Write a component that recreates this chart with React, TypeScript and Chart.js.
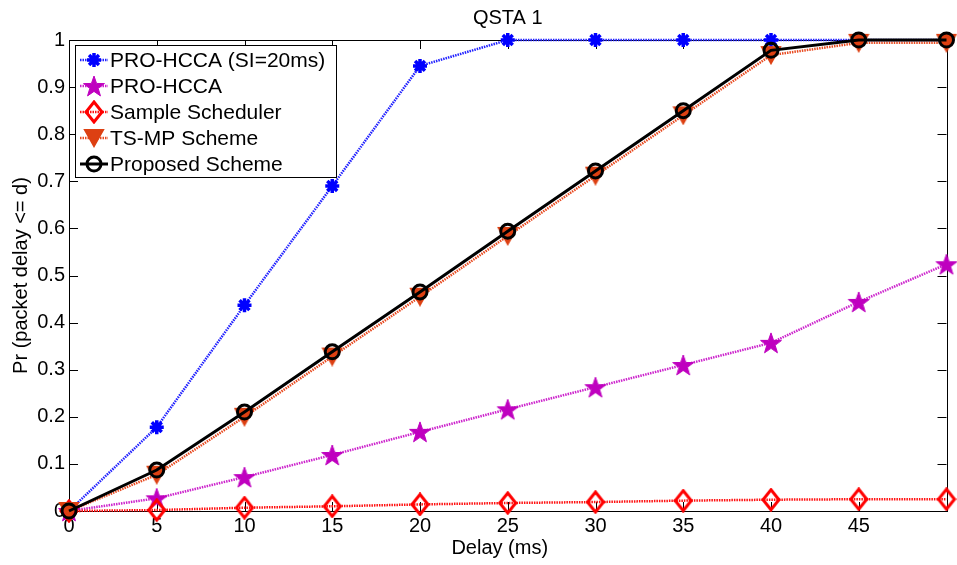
import React, { useEffect, useRef } from 'react';
import { Chart, registerables } from 'chart.js';
import { drawPoint } from 'chart.js/helpers';

Chart.register(...registerables);

const delays = [0, 5, 10, 15, 20, 25, 30, 35, 40, 45, 50];
const proHccaSI = [0, 0.178, 0.437, 0.69, 0.945, 1, 1, 1, 1, 1, 1];
const proHcca = [0, 0.027, 0.072, 0.119, 0.168, 0.216, 0.263, 0.31, 0.357, 0.444, 0.524];
const sampleScheduler = [0, 0.002, 0.007, 0.01, 0.014, 0.017, 0.019, 0.022, 0.024, 0.025, 0.025];
const tsmpScheme = [0, 0.077, 0.2, 0.328, 0.455, 0.584, 0.712, 0.84, 0.968, 0.994, 0.994];
const proposedScheme = [0, 0.087, 0.21, 0.338, 0.465, 0.594, 0.722, 0.85, 0.978, 1, 1];

const seriesNames = ['PRO-HCCA (SI=20ms)', 'PRO-HCCA', 'Sample Scheduler', 'TS-MP Scheme', 'Proposed Scheme'];
const titleText = 'QSTA 1';
const xTitle = 'Delay (ms)';
const yTitle = 'Pr (packet delay <= d)';

const FONT = '"Liberation Sans", Arial, sans-serif';

function makePentagram(color: string) {
  const c = document.createElement('canvas');
  const s = 24;
  c.width = s; c.height = s;
  const g = c.getContext('2d')!;
  const cx = s / 2, cy = s / 2 + 1, R = 11, r = 4.4;
  g.beginPath();
  for (let i = 0; i < 10; i++) {
    const ang = -Math.PI / 2 + (i * Math.PI) / 5;
    const rad = i % 2 === 0 ? R : r;
    const x = cx + rad * Math.cos(ang), y = cy + rad * Math.sin(ang);
    if (i === 0) g.moveTo(x, y); else g.lineTo(x, y);
  }
  g.closePath();
  g.fillStyle = color;
  g.fill();
  g.strokeStyle = color;
  g.lineWidth = 1;
  g.stroke();
  return c;
}

function makeDiamond(color: string) {
  const c = document.createElement('canvas');
  const w = 20, h = 24;
  c.width = w; c.height = h;
  const g = c.getContext('2d')!;
  g.beginPath();
  g.moveTo(w / 2, 2);
  g.lineTo(w - 2, h / 2);
  g.lineTo(w / 2, h - 2);
  g.lineTo(2, h / 2);
  g.closePath();
  g.strokeStyle = color;
  g.lineWidth = 3;
  g.stroke();
  return c;
}

function makeTriangle(color: string) {
  const c = document.createElement('canvas');
  const w = 22, h = 20;
  c.width = w; c.height = h;
  const g = c.getContext('2d')!;
  g.beginPath();
  g.moveTo(2, 2);
  g.lineTo(w - 2, 2);
  g.lineTo(w / 2, h - 2);
  g.closePath();
  g.fillStyle = color;
  g.fill();
  g.strokeStyle = color;
  g.lineWidth = 2;
  g.stroke();
  return c;
}

export default function App() {
  const ref = useRef<HTMLCanvasElement>(null);

  useEffect(() => {
    const canvas = ref.current!;
    const magenta = '#BF00BF';
    const orange = '#DD4012';
    const pent = makePentagram(magenta);
    const diam = makeDiamond('#FF0000');
    const tri = makeTriangle(orange);

    const mk = (data: number[]) => data.map((y, i) => ({ x: delays[i], y }));

    const datasets: any[] = [
      {
        label: seriesNames[0], data: mk(proHccaSI), borderColor: '#2020FF', backgroundColor: '#0000FF',
        borderWidth: 2.5, borderDash: [1.5, 1], pointStyle: 'star', pointRadius: 7, pointBorderWidth: 3.5,
        pointBorderColor: '#0000FF', order: 5,
      },
      {
        label: seriesNames[1], data: mk(proHcca), borderColor: '#CC22CC', backgroundColor: magenta,
        borderWidth: 2.5, borderDash: [1.5, 1], pointStyle: pent, order: 4,
      },
      {
        label: seriesNames[2], data: mk(sampleScheduler), borderColor: '#FF1010', backgroundColor: 'transparent',
        borderWidth: 2.5, borderDash: [1.5, 1], pointStyle: diam, order: 3,
      },
      {
        label: seriesNames[3], data: mk(tsmpScheme), borderColor: '#E84A20', backgroundColor: orange,
        borderWidth: 2.5, borderDash: [1.5, 1], pointStyle: tri, order: 2,
      },
      {
        label: seriesNames[4], data: mk(proposedScheme), borderColor: '#000000', backgroundColor: 'transparent',
        borderWidth: 3, pointStyle: 'circle', pointRadius: 7, pointBorderWidth: 3, pointBorderColor: '#000000',
        pointBackgroundColor: 'transparent', order: 1,
      },
    ];
    datasets.forEach((d) => { d.clip = false; d.tension = 0; d.fill = false; });

    const frame = {
      id: 'frame',
      beforeDatasetsDraw(chart: any) {
        const { ctx, chartArea: a, scales } = chart;
        ctx.save();
        ctx.strokeStyle = '#000';
        ctx.lineWidth = 1;
        ctx.strokeRect(Math.round(a.left) + 0.5, Math.round(a.top) + 0.5, Math.round(a.right - a.left), Math.round(a.bottom - a.top));
        const tl = 9;
        ctx.beginPath();
        scales.x.ticks.forEach((t: any) => {
          const px = Math.round(scales.x.getPixelForValue(t.value)) + 0.5;
          ctx.moveTo(px, a.bottom); ctx.lineTo(px, a.bottom - tl);
          ctx.moveTo(px, a.top); ctx.lineTo(px, a.top + tl);
        });
        scales.y.ticks.forEach((t: any) => {
          const py = Math.round(scales.y.getPixelForValue(t.value)) + 0.5;
          ctx.moveTo(a.left, py); ctx.lineTo(a.left + tl, py);
          ctx.moveTo(a.right, py); ctx.lineTo(a.right - tl, py);
        });
        ctx.stroke();
        ctx.restore();
      },
      afterDraw(chart: any) {
        const { ctx, chartArea: a } = chart;
        ctx.save();
        ctx.fillStyle = '#000';
        ctx.font = `20px ${FONT}`;
        ctx.textAlign = 'center';
        ctx.textBaseline = 'middle';
        ctx.fillText(titleText, (a.left + a.right) / 2, 18);
        ctx.fillText(xTitle, (a.left + a.right) / 2 - 8, 548);
        ctx.save();
        ctx.translate(21, (a.top + a.bottom) / 2);
        ctx.rotate(-Math.PI / 2);
        ctx.fillText(yTitle, 0, 0);
        ctx.restore();

        // legend
        const bx = a.left + 6, by = a.top + 5, bw = 261, bh = 132;
        ctx.fillStyle = '#fff';
        ctx.fillRect(bx, by, bw, bh);
        ctx.strokeStyle = '#000';
        ctx.lineWidth = 1;
        ctx.strokeRect(bx + 0.5, by + 0.5, bw, bh);
        ctx.font = `21px ${FONT}`;
        ctx.textAlign = 'left';
        ctx.textBaseline = 'middle';
        datasets.forEach((d, i) => {
          const cy = by + 15 + i * 26;
          ctx.save();
          ctx.strokeStyle = d.borderColor;
          ctx.lineWidth = d.borderWidth;
          ctx.setLineDash(d.borderDash || []);
          ctx.beginPath();
          ctx.moveTo(bx + 5, cy);
          ctx.lineTo(bx + 33, cy);
          ctx.stroke();
          ctx.setLineDash([]);
          ctx.strokeStyle = d.pointBorderColor || d.borderColor;
          ctx.fillStyle = d.pointBackgroundColor || d.backgroundColor;
          ctx.lineWidth = d.pointBorderWidth || 1;
          drawPoint(ctx, { pointStyle: d.pointStyle, radius: d.pointRadius || 7, rotation: 0, borderWidth: d.pointBorderWidth || 1 } as any, bx + 19, cy);
          ctx.restore();
          ctx.fillStyle = '#000';
          ctx.fillText(d.label, bx + 35, cy + 1);
        });
        ctx.restore();
      },
    };

    const chart = new Chart(canvas, {
      type: 'line',
      data: { datasets },
      options: {
        animation: false,
        responsive: false,
        layout: { padding: { top: 40, right: 9, left: 0, bottom: 0 } },
        plugins: { legend: { display: false }, title: { display: false }, tooltip: { enabled: false } },
        scales: {
          x: {
            type: 'linear', min: 0, max: 50,
            grid: { display: false, drawTicks: false },
            border: { display: false },
            ticks: {
              stepSize: 5, padding: 3, color: '#000', font: { family: FONT, size: 20 },
              maxRotation: 0, autoSkip: false,
              callback: (v: any) => (v === 50 ? '' : String(v)),
            },
            afterFit: (s: any) => { s.height = 54; },
          },
          y: {
            type: 'linear', min: 0, max: 1,
            grid: { display: false, drawTicks: false },
            border: { display: false },
            ticks: {
              stepSize: 0.1, padding: 4, color: '#000', font: { family: FONT, size: 20 },
              autoSkip: false,
              callback: (v: any) => { const n = Math.round(v * 10) / 10; return n === 0 || n === 1 ? String(n) : n.toFixed(1); },
            },
            afterFit: (s: any) => { s.width = 69; },
          },
        },
      } as any,
      plugins: [frame],
    });
    return () => chart.destroy();
  }, []);

  return (
    <div style={{ position: 'fixed', left: 0, top: 0, width: 957, height: 565, background: '#fff' }}>
      <canvas ref={ref} width={957} height={565} style={{ display: 'block', width: 957, height: 565 }} />
    </div>
  );
}
